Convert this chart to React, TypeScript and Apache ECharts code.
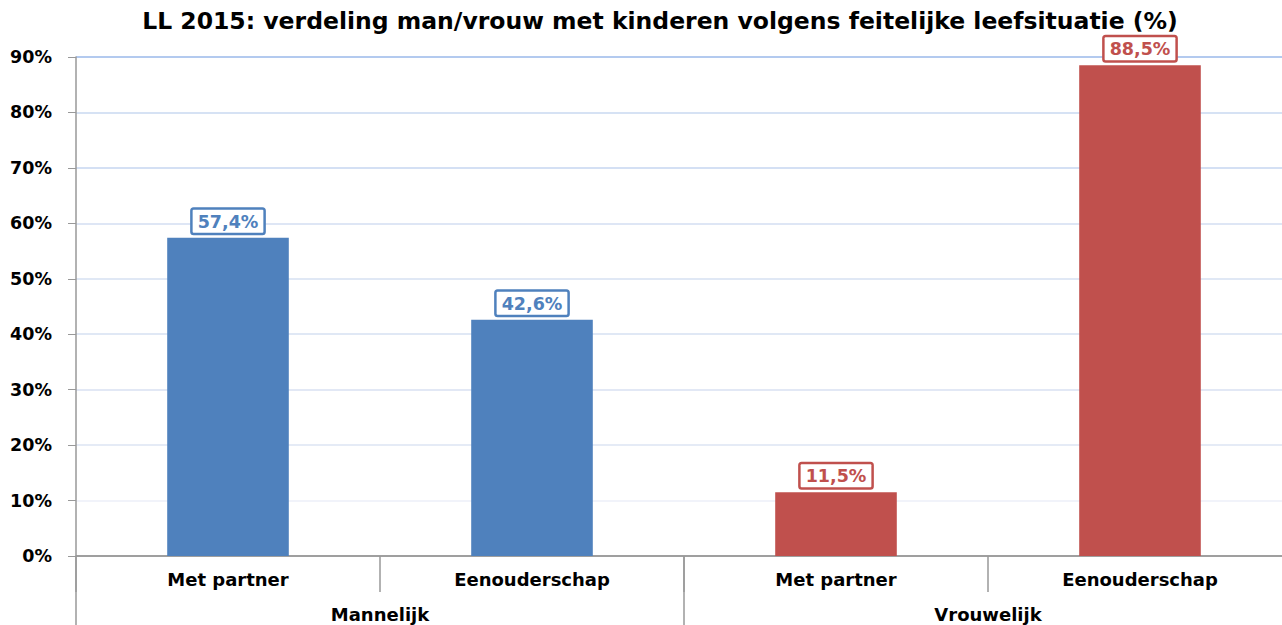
import React, { useEffect, useRef } from "react";
import * as echarts from "echarts";

const titleText = "LL 2015: verdeling man/vrouw met kinderen volgens feitelijke leefsituatie (%)";
const subCategories = ["Met partner", "Eenouderschap", "Met partner", "Eenouderschap"];
const groups = ["Mannelijk", "Vrouwelijk"];
const values = [57.4, 42.6, 11.5, 88.5];
const barColors = ["#4f81bd", "#4f81bd", "#c0504d", "#c0504d"];
const yTicks = [0, 10, 20, 30, 40, 50, 60, 70, 80, 90];
const gridColors = [
  "#999999", "#eceff8", "#dde4f3", "#d8e1f2", "#d6e0f2",
  "#d6e0f2", "#d3def2", "#c6d6f0", "#c9d8f0", "#9ab8ea",
];

const FONT = "'DejaVu Sans', sans-serif";

export default function App() {
  const ref = useRef<HTMLDivElement>(null);
  useEffect(() => {
    if (!ref.current) return;
    const chart = echarts.init(ref.current, null, { renderer: "svg" });
    chart.setOption({
      animation: false,
      backgroundColor: "#ffffff",
      title: {
        text: titleText,
        left: 655,
        textAlign: "center",
        top: 4,
        textStyle: { fontFamily: FONT, fontWeight: "bold", fontSize: 23.5, color: "#000" },
      },
      grid: { left: 76, width: 1216, top: 57, bottom: 69, outerBoundsMode: "none", containLabel: false },
      xAxis: [
        {
          type: "category",
          data: subCategories,
          position: "bottom",
          axisLine: { show: true, lineStyle: { color: "#999", width: 1.5 } },
          axisTick: { show: true, interval: 0, length: 36, lineStyle: { color: "#999", width: 1.5 } },
          axisLabel: {
            interval: 0,
            margin: 14,
            fontFamily: FONT,
            fontWeight: "bold",
            fontSize: 18,
            color: "#000",
          },
        },
        {
          type: "category",
          data: groups,
          position: "bottom",
          axisLine: { show: false },
          axisTick: { show: true, interval: 0, length: 70, lineStyle: { color: "#999", width: 1.5 } },
          axisLabel: {
            interval: 0,
            margin: 49,
            fontFamily: FONT,
            fontWeight: "bold",
            fontSize: 18,
            color: "#000",
          },
        },
      ],
      yAxis: {
        type: "value",
        min: yTicks[0],
        max: yTicks[yTicks.length - 1],
        interval: 10,
        axisLine: { show: true, lineStyle: { color: "#999", width: 1.5 } },
        axisTick: { show: true, length: 8, lineStyle: { color: "#999" } },
        splitLine: { show: true, lineStyle: { color: gridColors, width: 1.5 } },
        axisLabel: {
          margin: 24,
          fontFamily: FONT,
          fontWeight: "bold",
          fontSize: 17.5,
          color: "#000",
          formatter: (v: number) => `${v}%`,
        },
      },
      series: [
        {
          type: "bar",
          xAxisIndex: 0,
          barWidth: "40%",
          data: values.map((v, i) => ({
            value: v,
            itemStyle: { color: barColors[i] },
            label: {
              color: barColors[i],
              borderColor: barColors[i],
            },
          })),
          label: {
            show: true,
            position: "top",
            distance: 5,
            backgroundColor: "#fff",
            borderWidth: 2.5,
            borderRadius: 1,
            padding: [3, 5, 2, 5],
            fontFamily: FONT,
            fontWeight: "bold",
            fontSize: 17.5,
            formatter: (p: any) => `${String(p.value).replace(".", ",")}%`,
          },
        },
      ],
    });
    return () => chart.dispose();
  }, []);
  return (
    <div
      ref={ref}
      style={{ position: "fixed", left: 0, top: 0, width: 1282, height: 625 }}
    />
  );
}
